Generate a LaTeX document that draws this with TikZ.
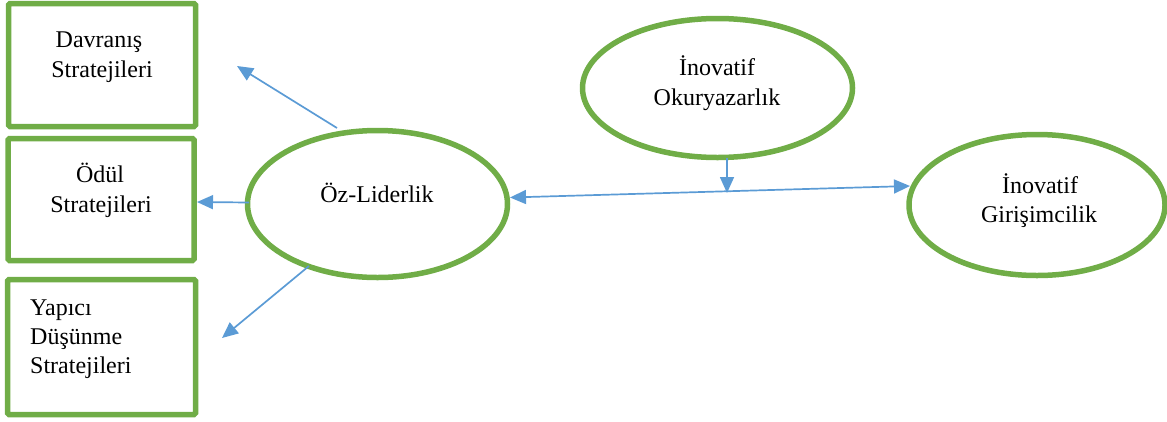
\documentclass[tikz,border=0pt]{standalone}
\usepackage{fontspec}
\setmainfont{Liberation Serif}
\usetikzlibrary{shapes.geometric,arrows.meta}
\definecolor{lgreen}{RGB}{112,173,71}
\definecolor{lblue}{RGB}{91,155,213}
\begin{document}
\begin{tikzpicture}[x=1pt,y=-1pt,
  frame/.style={draw=lgreen,line width=5.5pt,rounded corners=1.5pt},
  oval/.style={draw=lgreen,line width=5.5pt,ellipse,inner sep=0pt},
  lbl/.style={anchor=base,inner sep=0pt,font=\fontsize{24}{30}\selectfont},
  lbll/.style={anchor=base west,inner sep=0pt,font=\fontsize{24}{30}\selectfont},
  conn/.style={draw=lblue,line width=1.7pt,-{Triangle[length=16pt,width=14pt]}},
  dconn/.style={draw=lblue,line width=1.7pt,{Triangle[length=16pt,width=14pt]}-{Triangle[length=16pt,width=14pt]}}]
\useasboundingbox (0,0) rectangle (1167,421);
% boxes
\draw[frame] (8.5,3.5) rectangle (195.5,126.5);
\node[lbl] (b1a) at (99,47) {Davranış};
\node[lbl] (b1b) at (102,77) {Stratejileri};
\draw[frame] (8,138.5) rectangle (194,260.5);
\node[lbl] (b2a) at (100,182) {Ödül};
\node[lbl] (b2b) at (101,212) {Stratejileri};
\draw[frame] (7.5,279.5) rectangle (195.5,414.5);
\node[lbll] (b3a) at (30,315) {Yapıcı};
\node[lbll] (b3b) at (30,344) {Düşünme};
\node[lbll] (b3c) at (30,373) {Stratejileri};
% ellipses
\node[oval,minimum width=260pt,minimum height=147pt] (oz) at (377.5,204) {};
\node[lbl] (ozt) at (377,202) {Öz-Liderlik};
\node[oval,minimum width=270pt,minimum height=139pt] (ok) at (717.5,88) {};
\node[lbl] (oka) at (717,75) {İnovatif};
\node[lbl] (okb) at (717,105) {Okuryazarlık};
\node[oval,minimum width=256pt,minimum height=141pt] (gi) at (1037,205) {};
\node[lbl] (gia) at (1040,193) {İnovatif};
\node[lbl] (gib) at (1039,222) {Girişimcilik};
% connector ends
\coordinate (s1) at (337,128);
\coordinate (e1) at (237,66);
\coordinate (s2) at (249,202.5);
\coordinate (e2) at (197,202);
\coordinate (s3) at (309,266);
\coordinate (e3) at (222,338);
\coordinate (l) at (510,197.5);
\coordinate (r) at (910,186);
\coordinate (vs) at (727,158);
\coordinate (ve) at (727,193);
\draw[conn] (s1) -- (e1);
\draw[conn] (s2) -- (e2);
\draw[conn] (s3) -- (e3);
\draw[dconn] (l) -- (r);
\draw[conn] (vs) -- (ve);
\end{tikzpicture}
\end{document}
